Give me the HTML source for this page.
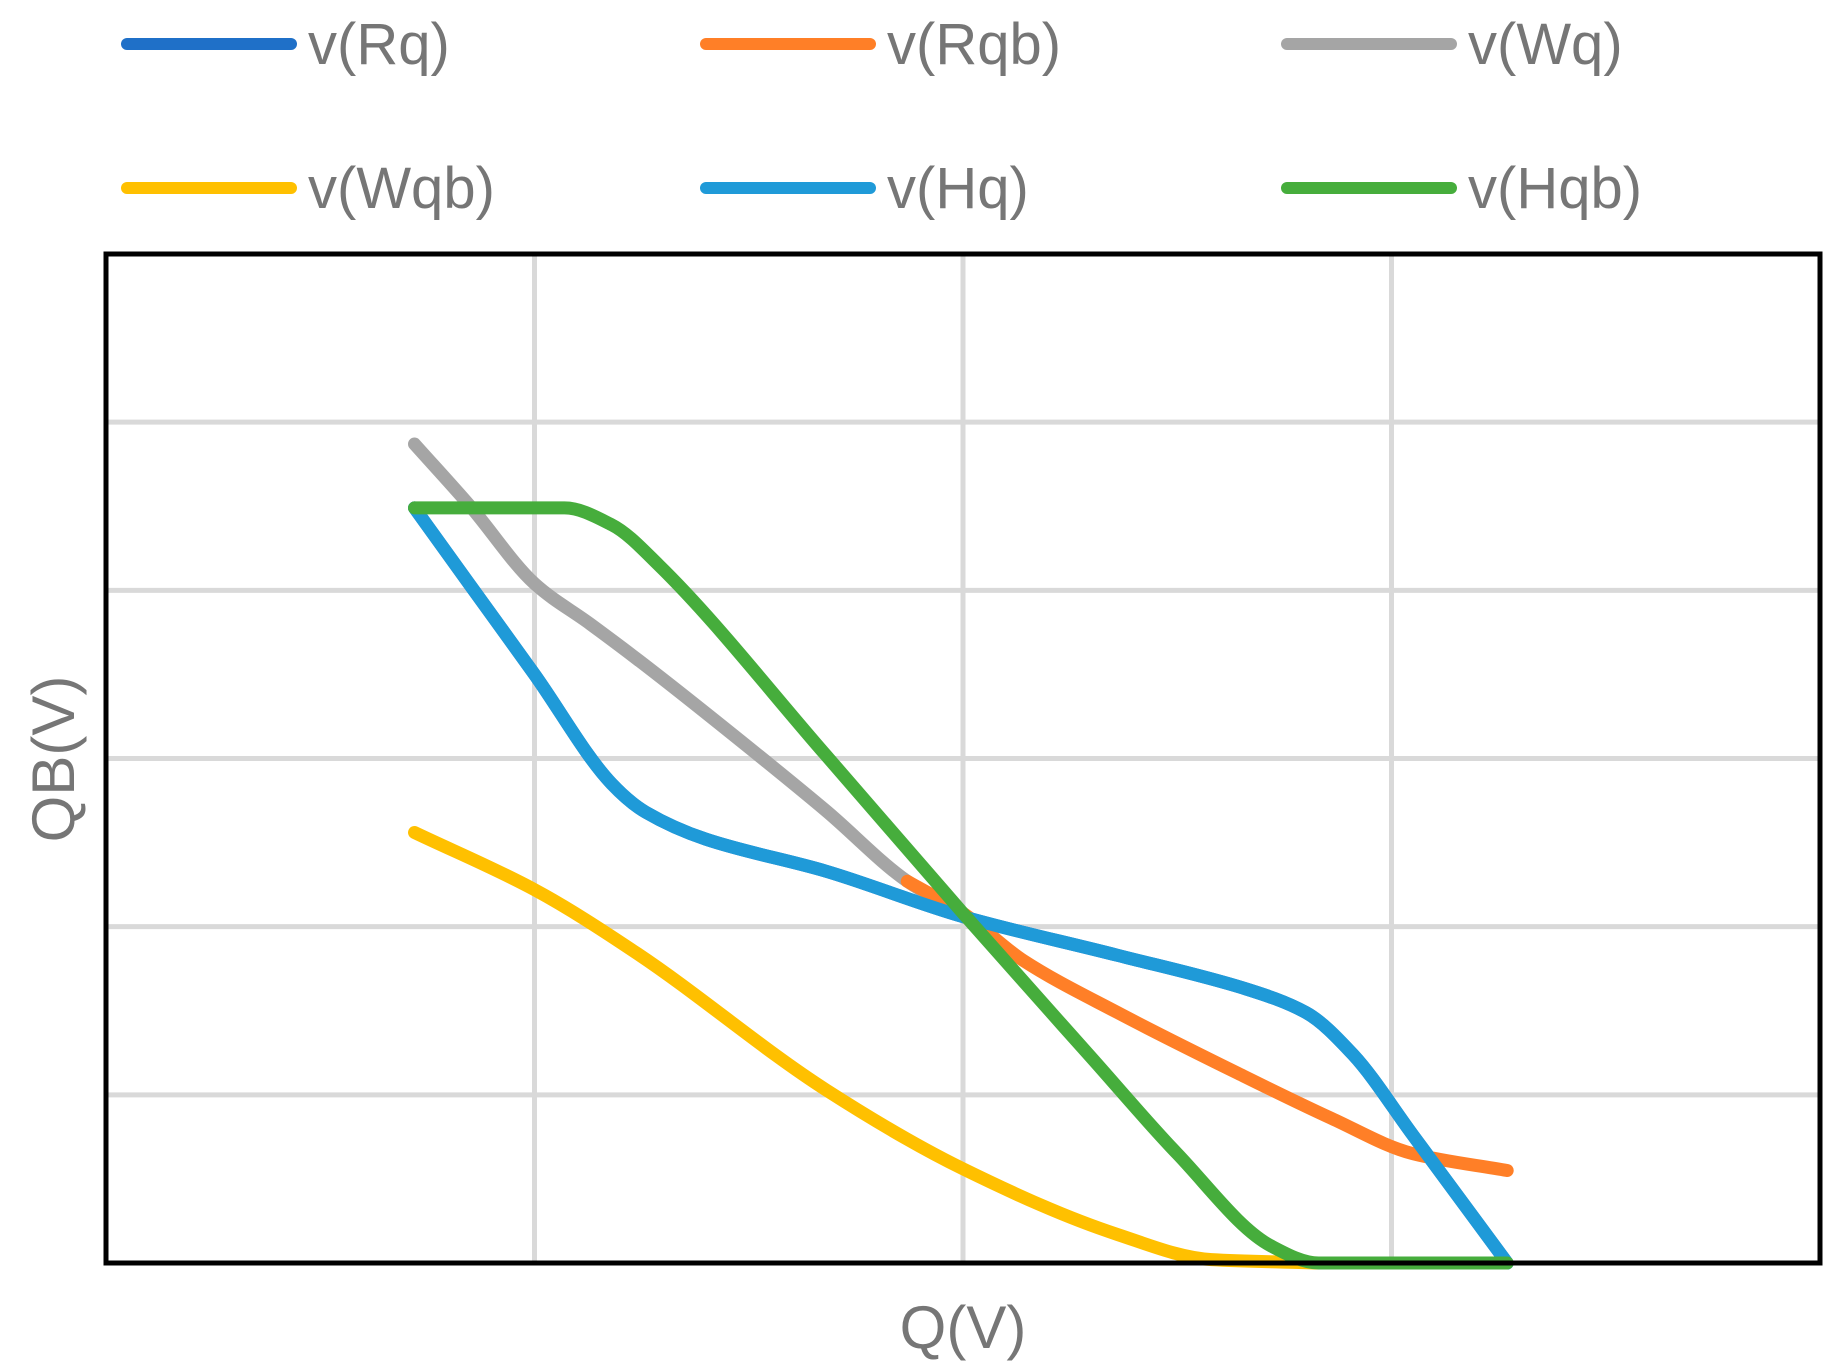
<!DOCTYPE html>
<html><head><meta charset="utf-8"><style>
html,body{margin:0;padding:0;background:#fff;width:1836px;height:1367px;overflow:hidden}
svg{display:block}
text{font-family:"Liberation Sans",sans-serif;fill:#767676}
</style></head><body>
<svg id="chart" width="1836" height="1367"></svg>
<script>
const seriesNames=["v(Rq)","v(Rqb)","v(Wq)","v(Wqb)","v(Hq)","v(Hqb)"];
const seriesColors=["#1f70c8","#ff7f27","#a5a5a5","#ffc000","#1f9ad8","#46ad3c"];
const rqX=[0.72,0.85,1.0,1.18,1.26,1.40,1.68,2.0,2.36,2.66,2.80,2.91,3.05,3.27];
const rqY=[4.49,4.03,3.50,2.85,2.68,2.52,2.33,2.06,1.83,1.63,1.49,1.24,0.76,0];
const rqbX=[1.87,2.0,2.14,2.36,2.64,2.86,3.05,3.27];
const rqbY=[2.27,2.08,1.80,1.49,1.13,0.86,0.65,0.55];
const wqX=[0.72,0.85,1.0,1.13,1.24,1.40,1.68,1.87,2.0];
const wqY=[4.87,4.50,4.04,3.80,3.59,3.27,2.69,2.27,2.08];
const wqbX=[0.72,1.0,1.24,1.68,2.0,2.36,2.58,2.83];
const wqbY=[2.56,2.22,1.84,1.03,0.56,0.17,0.02,0];
const hqX=rqX;
const hqY=rqY;
const hqbX=[0.72,1.07,1.18,1.29,1.68,2.0,2.3,2.5,2.72,2.83,3.27];
const hqbY=[4.49,4.49,4.39,4.15,3.02,2.08,1.22,0.65,0.10,0,0];
const L=106,R=1820,T=254,B=1263,XMAX=4,YMAX=6;
const sx=v=>L+(R-L)*v/XMAX, sy=v=>B-(B-T)*v/YMAX;
const NS="http://www.w3.org/2000/svg", svg=document.getElementById("chart");
function mk(t,a,p){const e=document.createElementNS(NS,t);for(const k in a)e.setAttribute(k,a[k]);(p||svg).appendChild(e);return e;}
for(let i=1;i<XMAX;i++){const g=mk("line",{x1:sx(i),x2:sx(i),y1:T,y2:B,stroke:"#d9d9d9","stroke-width":5});

}
for(let j=1;j<YMAX;j++){const g=mk("line",{x1:L,x2:R,y1:sy(j),y2:sy(j),stroke:"#d9d9d9","stroke-width":5});

}
function path(xs,ys){
  const x=xs.map(sx),y=ys.map(sy),n=x.length;
  const d=[],m=new Array(n);
  for(let i=0;i<n-1;i++)d.push((y[i+1]-y[i])/(x[i+1]-x[i]));
  m[0]=d[0];m[n-1]=d[n-2];
  for(let i=1;i<n-1;i++){m[i]=(d[i-1]*d[i]<=0)?0:2/(1/d[i-1]+1/d[i]);}
  let s="M"+x[0]+","+y[0];
  for(let i=0;i<n-1;i++){const h=(x[i+1]-x[i])/3;
    s+=" C"+(x[i]+h)+","+(y[i]+m[i]*h)+" "+(x[i+1]-h)+","+(y[i+1]-m[i+1]*h)+" "+x[i+1]+","+y[i+1];}
  return s;}
const data=[[rqX,rqY],[rqbX,rqbY],[wqX,wqY],[wqbX,wqbY],[hqX,hqY],[hqbX,hqbY]];
const order=[0,2,1,3,4,5];
order.forEach(i=>{const s=mk("path",{d:path(data[i][0],data[i][1]),fill:"none",stroke:seriesColors[i],"stroke-width":13,"stroke-linecap":"round","stroke-linejoin":"round"});

});
const box=mk("rect",{x:L,y:T,width:R-L,height:B-T,fill:"none",stroke:"#000","stroke-width":5});


const colX=[127,706,1287],rowY=[44,188];
seriesNames.forEach((n,i)=>{const x=colX[i%3],y=rowY[Math.floor(i/3)];
const g=mk("g",{});


mk("line",{x1:x,x2:x+164,y1:y,y2:y,stroke:seriesColors[i],"stroke-width":12,"stroke-linecap":"round"},g);
const t=mk("text",{x:x+181,y:y+20,"font-size":58},g);t.textContent=n;});
const xt=mk("text",{x:963,y:1348,"font-size":60,"text-anchor":"middle"});xt.textContent="Q(V)";


const yt=mk("text",{x:0,y:0,"font-size":60,"text-anchor":"middle",transform:"translate(74,759) rotate(-90)"});yt.textContent="QB(V)";


</script>
</body></html>
